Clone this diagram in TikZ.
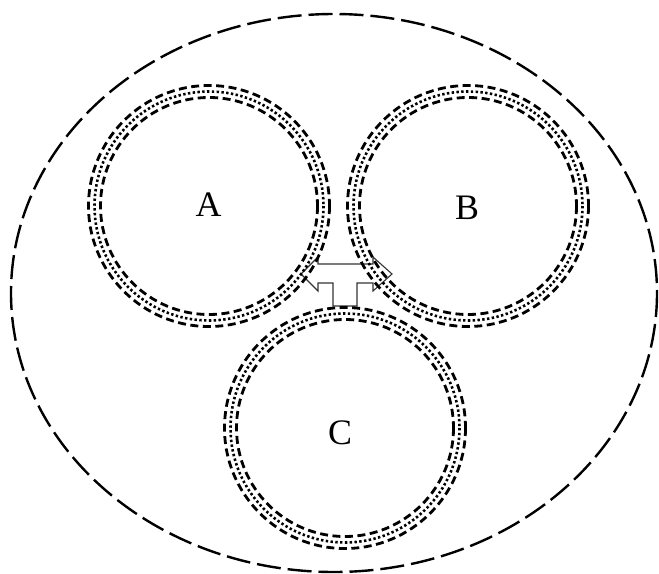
\documentclass[tikz,border=0pt]{standalone}
\usepackage{fontspec}
\setmainfont{Liberation Serif}
\begin{document}
\begin{tikzpicture}[x=1bp,y=-1bp,
  outerline/.style={line width=2.4bp, dash pattern=on 24bp off 7bp},
  ringdash/.style={line width=2.8bp, dash pattern=on 8bp off 4.5bp},
  ringdot/.style={line width=2.6bp, dash pattern=on 2.4bp off 2.4bp},
  lbl/.style={font=\fontsize{36}{40}\selectfont, inner sep=0pt},
  arrowshape/.style={draw=black!80, line width=1.1bp, fill=none}]
\useasboundingbox (0,0) rectangle (659,574);
% outer boundary
\draw[outerline] (334,293) ellipse [x radius=323, y radius=279];
% T-shaped double arrow
\draw[arrowshape] (301,274) -- (318,257) -- (318,264) -- (373,264) -- (373,257)
  -- (392,274) -- (373,291) -- (373,283) -- (357,283) -- (357,306)
  -- (333,306) -- (333,283) -- (318,283) -- (318,291) -- cycle;
% rings
\foreach \cx/\cy in {209/206, 468/206, 345/428}{
  \draw[ringdash] (\cx,\cy) circle [radius=120.5];
  \draw[ringdot] (\cx,\cy) circle [radius=114.5];
  \draw[ringdash] (\cx,\cy) circle [radius=108.5];
}
\node[lbl] (A) at (208.5,205) {A};
\node[lbl] (B) at (467,208) {B};
\node[lbl] (C) at (340,433) {C};
\end{tikzpicture}
\end{document}
